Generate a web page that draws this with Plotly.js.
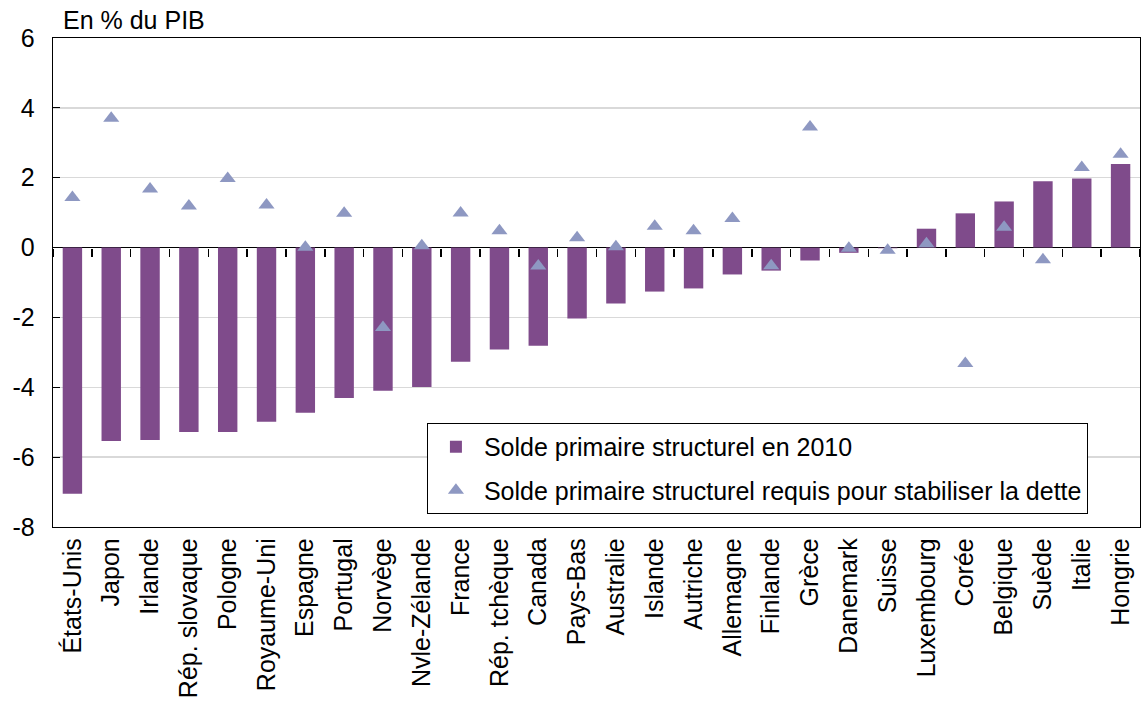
<!DOCTYPE html>
<html><head><meta charset="utf-8">
<script src="https://cdn.plot.ly/plotly-3.0.1.min.js"></script>
<style>body{margin:0;background:#fff}#c{width:1142px;height:711px}</style>
</head><body><div id="c"></div>
<script>
const countries = ["États-Unis","Japon","Irlande","Rép. slovaque","Pologne","Royaume-Uni","Espagne","Portugal","Norvège","Nvle-Zélande","France","Rép. tchèque","Canada","Pays-Bas","Australie","Islande","Autriche","Allemagne","Finlande","Grèce","Danemark","Suisse","Luxembourg","Corée","Belgique","Suède","Italie","Hongrie"];
const solde2010 = [-7.05,-5.54,-5.51,-5.28,-5.28,-4.99,-4.73,-4.31,-4.10,-3.99,-3.27,-2.92,-2.81,-2.03,-1.60,-1.26,-1.17,-0.77,-0.66,-0.37,-0.15,-0.02,0.54,0.98,1.32,1.90,1.98,2.39];
const soldeRequis = [1.43,3.70,1.68,1.19,1.98,1.22,0.01,0.98,-2.29,0.05,0.99,0.48,-0.53,0.28,0.02,0.61,0.48,0.83,-0.52,3.45,-0.02,-0.08,0.11,-3.32,0.58,-0.35,2.29,2.67];
const yTicks = [-8,-6,-4,-2,0,2,4,6];
const seriesNames = ["Solde primaire structurel en 2010","Solde primaire structurel requis pour stabiliser la dette"];
const unitLabel = "En % du PIB";

const F = "Liberation Sans, Arial, sans-serif";
const FS = 25;
const traces = [
  {type:"scatter", mode:"markers", x:countries, y:countries.map(()=>0), xaxis:"x2", yaxis:"y",
   marker:{size:1, opacity:0}, showlegend:false, hoverinfo:"skip"},
  {type:"bar", x:countries, y:solde2010, name:seriesNames[0], marker:{color:"#7f4b8b"}, width:0.5, legendgroup:"a"},
  {type:"scatter", mode:"markers", x:countries, y:soldeRequis, name:seriesNames[1],
   marker:{symbol:"triangle-up", size:14, color:"#8e98c2"}, legendgroup:"b"}
];
const layout = {
  width:1142, height:711,
  margin:{l:53, r:2, t:38, b:184},
  paper_bgcolor:"#fff", plot_bgcolor:"#fff",
  font:{family:F, size:FS, color:"#000"},
  showlegend:true,
  xaxis:{type:"category", tickangle:-90, showline:true, linecolor:"#000", linewidth:1.3, mirror:true,
         ticks:"", showgrid:false, tickfont:{size:FS, family:F}, range:[-0.5,27.5], fixedrange:true},
  xaxis2:{type:"category", overlaying:"x", matches:"x", anchor:"free", position:8/14, side:"bottom",
          ticks:"outside", ticklen:8, tickwidth:1.5, tickcolor:"#000", tickson:"boundaries",
          showticklabels:false, showline:false, showgrid:false, zeroline:false},
  yaxis:{range:[-8,6], tickvals:yTicks, ticktext:yTicks.map(String), showline:true, linecolor:"#000", linewidth:1.3, mirror:true,
         ticks:"inside", ticklen:7, tickcolor:"#000", tickwidth:1, showgrid:true, gridcolor:"#d9d9d9", gridwidth:1.3,
         zeroline:true, zerolinecolor:"#000", zerolinewidth:1.5, tickfont:{size:FS, family:F}, ticklabelstandoff:12},
  legend:{x:0.344, y:0.2127, xanchor:"left", yanchor:"top", bordercolor:"#000", borderwidth:1, bgcolor:"#fff",
          font:{size:FS, family:F}, traceorder:"grouped", tracegroupgap:8, itemwidth:46},
  annotations:[{text:unitLabel, xref:"paper", yref:"paper", x:0.007, y:1, yshift:2, xanchor:"left", yanchor:"bottom",
                showarrow:false, font:{size:FS, family:F}}]
};
Plotly.newPlot("c", traces, layout, {staticPlot:true, displayModeBar:false});
</script></body></html>
